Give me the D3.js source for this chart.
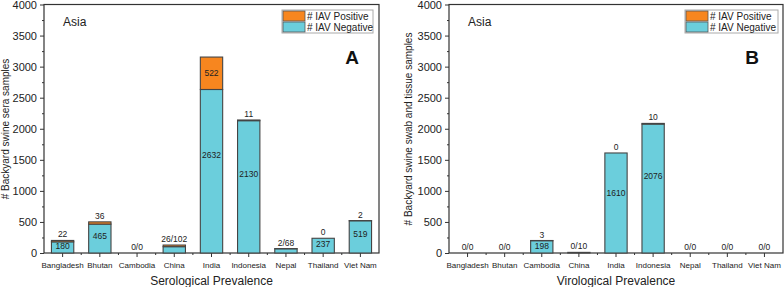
<!DOCTYPE html>
<html><head><meta charset="utf-8">
<script src="https://cdn.jsdelivr.net/npm/d3@7"></script>
<style>body{margin:0;background:#fff}svg{display:block;font-family:"Liberation Sans",Arial,sans-serif}</style>
</head><body><svg id="c" width="784" height="287"></svg>
<script>
const countries = ["Bangladesh","Bhutan","Cambodia","China","India","Indonesia","Nepal","Thailand","Viet Nam"];
const seroNegative = [180,465,0,102,2632,2130,68,237,519];
const seroPositive = [22,36,0,26,522,11,2,0,2];
const seroTopLabels = ["22","36","0/0","26/102","","11","2/68","0","2"];
const seroInsideLabels = ["180","465","","","2632","2130","","237","519"];
const seroPosInsideLabels = ["","","","","522","","","",""];
const viroNegative = [0,0,198,10,1610,2076,0,0,0];
const viroPositive = [0,0,3,0,0,10,0,0,0];
const viroTopLabels = ["0/0","0/0","3","0/10","0","10","0/0","0/0","0/0"];
const viroInsideLabels = ["","","198","","1610","2076","","",""];
const viroPosInsideLabels = ["","","","","","","","",""];
const yTicks = [0,500,1000,1500,2000,2500,3000,3500,4000];
const legendLabels = ["# IAV Positive","# IAV Negative"];
const colPos = "#F7861F", colNeg = "#6BCEDC";

const svg = d3.select("#c");

function panel(o){
  const g = svg.append("g");
  const x = d3.scaleBand().domain(countries).range([o.left,o.right]).paddingInner(0.4).paddingOuter(0.2);
  const y = d3.scaleLinear().domain([0,4000]).range([253,4.5]);
  const minor = d3.range(0,4001,250).filter(v=>v%500!==0);
  g.append("g").attr("transform",`translate(${o.left},0)`)
    .call(d3.axisLeft(y).tickValues(minor).tickSize(2).tickFormat(""))
    .call(a=>a.select(".domain").remove()).selectAll("line").attr("stroke","#333");
  const ya = g.append("g").attr("transform",`translate(${o.left},0)`)
    .call(d3.axisLeft(y).tickValues(yTicks).tickSize(4).tickPadding(3).tickFormat(d3.format("d")));
  ya.select(".domain").remove();
  ya.selectAll("line").attr("stroke","#333");
  ya.selectAll("text").attr("font-size",11).attr("fill","#222");
  const step = x.step();
  const bounds = countries.slice(1).map(c=>x(c)+x.bandwidth()/2-step/2);
  g.append("g").selectAll("line").data(bounds).join("line")
    .attr("x1",d=>d).attr("x2",d=>d).attr("y1",253).attr("y2",255).attr("stroke","#333");
  const xa = g.append("g").attr("transform","translate(0,253)")
    .call(d3.axisBottom(x).tickSize(4).tickPadding(5));
  xa.select(".domain").remove();
  xa.selectAll("line").attr("stroke","#333");
  xa.selectAll("text").attr("font-size",8).attr("fill","#222");
  g.append("rect").attr("x",o.left).attr("y",4.5).attr("width",o.right-o.left).attr("height",253-4.5)
    .attr("fill","none").attr("stroke","#333").attr("stroke-width",1.2);
  const bars = g.append("g");
  countries.forEach((c,i)=>{
    const n=o.neg[i], p=o.pos[i];
    if(n>0) bars.append("rect").attr("x",x(c)).attr("width",x.bandwidth())
      .attr("y",y(n)).attr("height",y(0)-y(n)).attr("fill",colNeg).attr("stroke","#444").attr("stroke-width",1.1);
    if(p>0) bars.append("rect").attr("x",x(c)).attr("width",x.bandwidth())
      .attr("y",y(n+p)).attr("height",y(n)-y(n+p)).attr("fill",colPos).attr("stroke","#444").attr("stroke-width",1.1);
    const cx = x(c)+x.bandwidth()/2;
    if(o.top[i]) g.append("text").attr("x",cx).attr("y",y(n+p)-3).attr("text-anchor","middle")
      .attr("font-size",8.5).attr("fill","#222").text(o.top[i]);
    if(o.inside[i]) g.append("text").attr("x",cx).attr("y",Math.min(y(n*0.6)+3,251)).attr("text-anchor","middle")
      .attr("font-size",8.5).attr("fill","#222").text(o.inside[i]);
    if(o.posInside[i]) g.append("text").attr("x",cx).attr("y",y(n+p/2)+3).attr("text-anchor","middle")
      .attr("font-size",8.5).attr("fill","#222").text(o.posInside[i]);
  });
  g.append("text").attr("x",o.left+19).attr("y",26).attr("font-size",12).attr("fill","#222").text("Asia");
  g.append("text").attr("x",o.letterX).attr("y",64).attr("text-anchor","middle").attr("font-size",19)
    .attr("font-weight","bold").attr("fill","#111").text(o.letter);
  g.append("text").attr("transform",`translate(${o.ytx},129) rotate(-90)`).attr("text-anchor","middle")
    .attr("font-size",10).attr("fill","#222").text(o.ytitle);
  g.append("text").attr("x",(o.left+o.right)/2).attr("y",285).attr("text-anchor","middle")
    .attr("font-size",12).attr("fill","#222").text(o.xtitle);
  const lg = g.append("g").attr("transform",`translate(${o.legX},10)`);
  lg.append("rect").attr("x",0).attr("y",0).attr("width",o.legW).attr("height",23).attr("fill","#fff").attr("stroke","#aaa");
  [colPos,colNeg].forEach((cl,i)=>{
    lg.append("rect").attr("x",1).attr("y",1+i*11).attr("width",22).attr("height",10).attr("fill",cl).attr("stroke","#555").attr("stroke-width",0.8);
    lg.append("text").attr("x",25).attr("y",9.5+i*11).attr("font-size",10).attr("fill","#222").text(legendLabels[i]);
  });
}

panel({left:44,right:379,neg:seroNegative,pos:seroPositive,top:seroTopLabels,inside:seroInsideLabels,posInside:seroPosInsideLabels,
  letter:"A",letterX:352,ytx:9,ytitle:"# Backyard swine sera samples",xtitle:"Serological Prevalence",legX:282,legW:91});
panel({left:449,right:783,neg:viroNegative,pos:viroPositive,top:viroTopLabels,inside:viroInsideLabels,posInside:viroPosInsideLabels,
  letter:"B",letterX:752,ytx:412,ytitle:"# Backyard swine swab and tissue samples",xtitle:"Virological Prevalence",legX:685,legW:93});
</script></body></html>
